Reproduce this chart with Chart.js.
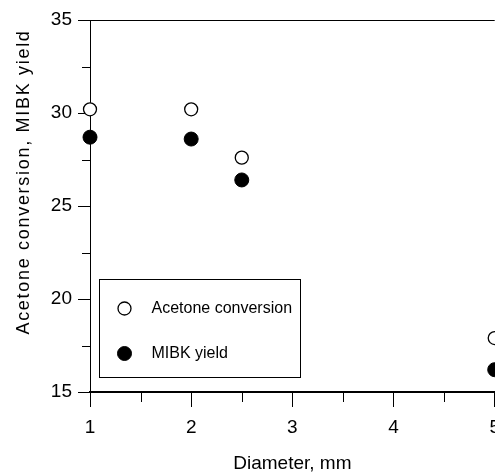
<!DOCTYPE html>
<html>
<head>
<meta charset="utf-8">
<script src="https://cdn.jsdelivr.net/npm/chart.js@4"></script>
<style>
  html, body { margin: 0; padding: 0; background: #fff; overflow: hidden; }
  #wrap { width: 495px; height: 475px; overflow: hidden; }
  canvas { display: block; }
</style>
</head>
<body>
<div id="wrap"><canvas id="diameter-chart" width="509" height="475"></canvas></div>
<script>
// Catalyst pellet diameter vs. acetone conversion / MIBK yield
const diameters = [1, 2, 2.5, 5];
const acetoneConversion = [30.2, 30.2, 27.6, 17.9];
const mibkYield = [28.7, 28.6, 26.4, 16.2];
const seriesLabels = ['Acetone conversion', 'MIBK yield'];
const xRange = [1, 5];
const yRange = [15, 35];
const yTitle = 'Acetone conversion, MIBK yield';
const xTitle = 'Diameter, mm';

const FONT = '"Liberation Sans", Arial, sans-serif';

const toPoints = (ys) => diameters.map((d, i) => ({ x: d, y: ys[i] }));
const isMajor = (v, step) => Math.abs(v / step - Math.round(v / step)) < 1e-6;

// short minor ticks, top frame line, rotated y title and the boxed legend
const decorations = {
  id: 'decorations',
  afterDraw(chart) {
    const { ctx, chartArea, scales } = chart;
    ctx.save();
    ctx.strokeStyle = '#000';
    ctx.lineWidth = 1;

    scales.x.ticks.filter((t) => !isMajor(t.value, 1)).forEach((t) => {
      const px = Math.round(scales.x.getPixelForValue(t.value)) + 0.5;
      ctx.beginPath();
      ctx.moveTo(px, chartArea.bottom);
      ctx.lineTo(px, chartArea.bottom + 10);
      ctx.stroke();
    });
    scales.y.ticks.filter((t) => !isMajor(t.value, 5)).forEach((t) => {
      const py = Math.round(scales.y.getPixelForValue(t.value)) + 0.5;
      ctx.beginPath();
      ctx.moveTo(chartArea.left - 8, py);
      ctx.lineTo(chartArea.left, py);
      ctx.stroke();
    });

    // top frame
    ctx.beginPath();
    ctx.moveTo(chartArea.left, Math.round(chartArea.top) + 0.5);
    ctx.lineTo(chartArea.right, Math.round(chartArea.top) + 0.5);
    ctx.stroke();

    // y title
    ctx.save();
    ctx.translate(24, 182);
    ctx.rotate(-Math.PI / 2);
    ctx.font = '18px ' + FONT;
    ctx.letterSpacing = '1.7px';
    ctx.fillStyle = '#000';
    ctx.textAlign = 'center';
    ctx.textBaseline = 'middle';
    ctx.fillText(yTitle, 0, 0);
    ctx.restore();

    // legend box
    const box = { x: chartArea.left + 9.5, y: 279.5, w: 201, h: 98 };
    ctx.strokeRect(box.x, box.y, box.w, box.h);
    ctx.font = '16px ' + FONT;
    ctx.textAlign = 'left';
    ctx.textBaseline = 'middle';
    chart.data.datasets.forEach((ds, i) => {
      const cy = box.y + 29 + i * 45;
      const cx = box.x + 25;
      ctx.beginPath();
      ctx.arc(cx, cy, ds.pointRadius, 0, Math.PI * 2);
      ctx.fillStyle = ds.pointBackgroundColor;
      ctx.fill();
      ctx.lineWidth = ds.pointBorderWidth;
      ctx.strokeStyle = ds.pointBorderColor;
      ctx.stroke();
      ctx.fillStyle = '#000';
      ctx.fillText(ds.label, box.x + 52, cy);
    });
    ctx.restore();
  }
};

new Chart(document.getElementById('diameter-chart'), {
  type: 'scatter',
  data: {
    datasets: [
      {
        label: seriesLabels[0],
        data: toPoints(acetoneConversion),
        pointRadius: 6.5,
        pointBorderWidth: 1.3,
        pointBackgroundColor: '#fff',
        pointBorderColor: '#000',
        clip: false,
      },
      {
        label: seriesLabels[1],
        data: toPoints(mibkYield),
        pointRadius: 7,
        pointBorderWidth: 1,
        pointBackgroundColor: '#000',
        pointBorderColor: '#000',
        clip: false,
      },
    ],
  },
  options: {
    responsive: false,
    animation: false,
    layout: { padding: { top: 20, right: 0, bottom: 0, left: 0 } },
    plugins: { legend: { display: false }, tooltip: { enabled: false } },
    scales: {
      x: {
        type: 'linear',
        min: xRange[0],
        max: xRange[1],
        afterFit: (s) => { s.height = 83; },
        ticks: {
          stepSize: 0.5,
          padding: 9,
          color: '#000',
          font: { family: FONT, size: 19 },
          callback: (v) => (isMajor(v, 1) ? v : ''),
        },
        grid: {
          drawOnChartArea: false,
          tickLength: 15,
          tickColor: (c) => (c.tick && isMajor(c.tick.value, 1) ? '#000' : 'rgba(0,0,0,0)'),
        },
        border: { color: '#000', width: 2 },
        title: {
          display: true,
          text: xTitle,
          color: '#000',
          font: { family: FONT, size: 19 },
          padding: { top: 0, bottom: 0 },
        },
      },
      y: {
        type: 'linear',
        min: yRange[0],
        max: yRange[1],
        afterFit: (s) => { s.width = 90; },
        ticks: {
          stepSize: 2.5,
          padding: 6,
          color: '#000',
          font: { family: FONT, size: 19 },
          callback: (v) => (isMajor(v, 5) ? v : ''),
        },
        grid: {
          drawOnChartArea: false,
          tickLength: 12,
          tickColor: (c) => (c.tick && isMajor(c.tick.value, 5) ? '#000' : 'rgba(0,0,0,0)'),
        },
        border: { color: '#000', width: 1 },
      },
    },
  },
  plugins: [decorations],
});
</script>
</body>
</html>
